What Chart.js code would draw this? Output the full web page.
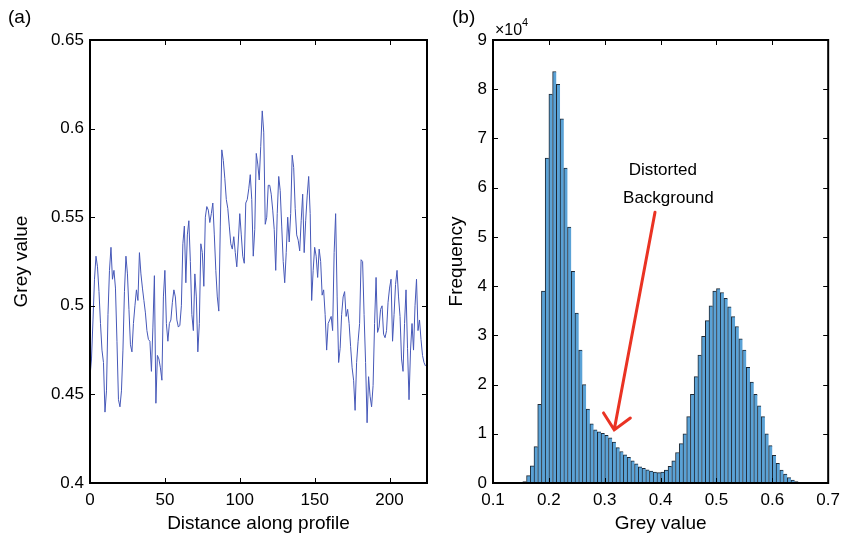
<!DOCTYPE html>
<html>
<head>
<meta charset="utf-8">
<script src="https://cdn.jsdelivr.net/npm/chart.js@4.4.0/dist/chart.umd.min.js"></script>
<style>
  html, body { margin: 0; padding: 0; background: #fff; }
  #wrap { position: relative; width: 847px; height: 546px; }
  canvas { position: absolute; left: 0; top: 0; }
</style>
</head>
<body>
<div id="wrap">
  <canvas id="profile" width="847" height="546"></canvas>
  <canvas id="hist" width="847" height="546"></canvas>
</div>
<script>
// (a) grey value along the profile, one sample per pixel of distance
const profileValues = [
  0.460, 0.470, 0.492, 0.515, 0.528, 0.522, 0.508, 0.490, 0.475, 0.468,
  0.440, 0.452, 0.495, 0.520, 0.533, 0.515, 0.520, 0.510, 0.480, 0.447,
  0.443, 0.452, 0.475, 0.508, 0.528, 0.518, 0.498, 0.478, 0.474, 0.490,
  0.500, 0.509, 0.503, 0.530, 0.518, 0.510, 0.503, 0.496, 0.486, 0.481,
  0.480, 0.463, 0.488, 0.517, 0.445, 0.472, 0.470, 0.465, 0.458, 0.505,
  0.520, 0.490, 0.480, 0.490, 0.492, 0.502, 0.509, 0.505, 0.492, 0.488,
  0.489, 0.500, 0.535, 0.545, 0.513, 0.540, 0.548, 0.525, 0.495, 0.486,
  0.518, 0.505, 0.474, 0.490, 0.535, 0.530, 0.511, 0.550, 0.556, 0.554,
  0.547, 0.552, 0.558, 0.540, 0.520, 0.505, 0.497, 0.545, 0.588, 0.582,
  0.572, 0.560, 0.555, 0.545, 0.535, 0.532, 0.539, 0.530, 0.522, 0.536,
  0.552, 0.540, 0.528, 0.524, 0.558, 0.560, 0.566, 0.574, 0.560, 0.528,
  0.543, 0.586, 0.580, 0.571, 0.590, 0.610, 0.598, 0.546, 0.550, 0.568,
  0.568, 0.563, 0.554, 0.543, 0.520, 0.552, 0.573, 0.565, 0.545, 0.525,
  0.513, 0.530, 0.550, 0.536, 0.552, 0.585, 0.578, 0.555, 0.540, 0.537,
  0.531, 0.548, 0.563, 0.530, 0.548, 0.562, 0.573, 0.552, 0.503, 0.520,
  0.533, 0.528, 0.516, 0.532, 0.525, 0.506, 0.509, 0.495, 0.475, 0.490,
  0.492, 0.494, 0.486, 0.530, 0.552, 0.505, 0.468, 0.476, 0.495, 0.505,
  0.508, 0.494, 0.498, 0.490, 0.477, 0.465, 0.458, 0.441, 0.468, 0.480,
  0.490, 0.526, 0.525, 0.495, 0.468, 0.434, 0.460, 0.449, 0.443, 0.455,
  0.490, 0.516, 0.485, 0.488, 0.498, 0.500, 0.484, 0.482, 0.486, 0.502,
  0.510, 0.515, 0.480, 0.495, 0.512, 0.520, 0.505, 0.494, 0.470, 0.463,
  0.490, 0.509, 0.476, 0.447, 0.475, 0.490, 0.475, 0.500, 0.515, 0.486,
  0.492, 0.481, 0.472, 0.468, 0.466
];
const distanceTicks = [0, 50, 100, 150, 200];
const profileGreyTicks = [0.4, 0.45, 0.5, 0.55, 0.6, 0.65];

// (b) histogram of grey values, counts in units of 10^4
const binStart = 0.1567;
const binWidth = 1 / 150;
const freqValues = [
  0.03, 0.15, 0.35, 0.74, 1.6, 3.9, 6.6, 7.9, 8.36, 8.1,
  7.4, 6.4, 5.2, 4.3, 3.45, 2.7, 2.0, 1.5, 1.2, 1.08,
  1.04, 1.01, 0.97, 0.92, 0.83, 0.72, 0.64, 0.57, 0.52, 0.45,
  0.39, 0.33, 0.30, 0.27, 0.24, 0.22, 0.21, 0.22, 0.26, 0.34,
  0.45, 0.62, 0.8, 1.0, 1.35, 1.8, 2.16, 2.6, 2.98, 3.3,
  3.6, 3.9, 3.95, 3.87, 3.75, 3.58, 3.38, 3.18, 2.93, 2.7,
  2.35, 2.05, 1.8, 1.57, 1.35, 1.0, 0.76, 0.56, 0.4, 0.26,
  0.18, 0.11, 0.06, 0.03, 0.015, 0.005
];
const histGreyTicks = [0.1, 0.2, 0.3, 0.4, 0.5, 0.6, 0.7];
const freqTicks = [0, 1, 2, 3, 4, 5, 6, 7, 8, 9];

Chart.defaults.font.family = '"Liberation Sans", Arial, sans-serif';
Chart.defaults.font.size = 17;
Chart.defaults.color = '#000';

const fmt = v => String(+v.toFixed(2));

// MATLAB style box with inward ticks on all four sides
const matlabBox = {
  id: 'matlabBox',
  afterDraw(chart) {
    const { ctx, chartArea: a, scales: { x, y } } = chart;
    const t = 5;
    ctx.save();
    ctx.strokeStyle = '#000';
    ctx.lineWidth = 1;
    ctx.beginPath();
    x.ticks.forEach(tk => {
      const px = Math.round(x.getPixelForValue(tk.value)) + 0.5;
      ctx.moveTo(px, a.bottom); ctx.lineTo(px, a.bottom - t);
      ctx.moveTo(px, a.top); ctx.lineTo(px, a.top + t);
    });
    y.ticks.forEach(tk => {
      const py = Math.round(y.getPixelForValue(tk.value)) + 0.5;
      ctx.moveTo(a.left, py); ctx.lineTo(a.left + t, py);
      ctx.moveTo(a.right, py); ctx.lineTo(a.right - t, py);
    });
    ctx.stroke();
    ctx.lineWidth = 2;
    ctx.strokeRect(a.left, a.top, a.right - a.left, a.bottom - a.top);
    ctx.restore();
  }
};

function axisX(min, max, ticks, title) {
  return {
    type: 'linear', min, max, offset: false,
    afterBuildTicks: s => { s.ticks = ticks.map(v => ({ value: v })); },
    afterFit: s => { s.height = 56; },
    grid: { display: false, drawTicks: false },
    border: { display: false },
    ticks: { padding: 7, maxRotation: 0, callback: fmt },
    title: { display: true, text: title, font: { size: 19 }, padding: { top: 0, bottom: 4 } }
  };
}
function axisY(min, max, ticks, title, width) {
  return {
    type: 'linear', min, max,
    afterBuildTicks: s => { s.ticks = ticks.map(v => ({ value: v })); },
    afterFit: s => { s.width = width; },
    grid: { display: false, drawTicks: false },
    border: { display: false },
    ticks: { padding: 6, callback: fmt },
    title: { display: true, text: title, font: { size: 19 }, padding: { top: 0, bottom: 0 } }
  };
}

new Chart(document.getElementById('profile'), {
  type: 'line',
  data: {
    datasets: [{
      data: profileValues.map((v, i) => ({ x: i, y: v })),
      borderColor: '#4658b8',
      borderWidth: 1,
      pointRadius: 0,
      tension: 0
    }]
  },
  options: {
    responsive: false,
    animation: false,
    devicePixelRatio: 1,
    layout: { padding: { left: 10, top: 40, right: 420, bottom: 7 } },
    plugins: { legend: { display: false }, tooltip: { enabled: false } },
    scales: {
      x: axisX(0, 225, distanceTicks, 'Distance along profile'),
      y: axisY(0.4, 0.65, profileGreyTicks, 'Grey value', 80)
    }
  },
  plugins: [matlabBox]
});

const annotation = {
  tail: { x: 0.39, y: 5.5 },
  tip: { x: 0.317, y: 1.08 },
  lines: [
    { text: 'Distorted', x: 0.404, y: 6.36 },
    { text: 'Background', x: 0.414, y: 5.79 }
  ]
};

const histExtras = {
  id: 'histExtras',
  afterDraw(chart) {
    const { ctx, scales: { x, y } } = chart;
    ctx.save();
    ctx.fillStyle = '#000';
    ctx.textBaseline = 'alphabetic';
    ctx.font = '19px "Liberation Sans", Arial, sans-serif';
    ctx.textAlign = 'left';
    ctx.fillText('(a)', 8, 23);
    ctx.fillText('(b)', 452, 23);
    ctx.font = '16px "Liberation Sans", Arial, sans-serif';
    ctx.fillText('\u00d710', 495, 35);
    ctx.font = '11px "Liberation Sans", Arial, sans-serif';
    ctx.fillText('4', 522, 26);

    ctx.font = '17px "Liberation Sans", Arial, sans-serif';
    ctx.textAlign = 'center';
    ctx.textBaseline = 'middle';
    annotation.lines.forEach(l => ctx.fillText(l.text, x.getPixelForValue(l.x), y.getPixelForValue(l.y)));

    const x0 = x.getPixelForValue(annotation.tail.x), y0 = y.getPixelForValue(annotation.tail.y);
    const x1 = x.getPixelForValue(annotation.tip.x), y1 = y.getPixelForValue(annotation.tip.y);
    const ang = Math.atan2(y1 - y0, x1 - x0);
    const head = 20, spread = 0.75;
    ctx.strokeStyle = '#ea3323';
    ctx.lineWidth = 3;
    ctx.lineCap = 'round';
    ctx.beginPath();
    ctx.moveTo(x0, y0); ctx.lineTo(x1, y1);
    ctx.moveTo(x1 - head * Math.cos(ang - spread), y1 - head * Math.sin(ang - spread));
    ctx.lineTo(x1, y1);
    ctx.lineTo(x1 - head * Math.cos(ang + spread), y1 - head * Math.sin(ang + spread));
    ctx.stroke();
    ctx.restore();
  }
};

new Chart(document.getElementById('hist'), {
  type: 'bar',
  data: {
    datasets: [{
      data: freqValues.map((v, i) => ({ x: binStart + i * binWidth, y: v })),
      backgroundColor: 'rgb(90, 162, 214)',
      borderColor: '#1d2733',
      borderWidth: { left: 1, top: 1, right: 0, bottom: 0 },
      borderSkipped: false,
      barPercentage: 1,
      categoryPercentage: 1,
      grouped: false
    }]
  },
  options: {
    responsive: false,
    animation: false,
    devicePixelRatio: 1,
    layout: { padding: { left: 445, top: 40, right: 16, bottom: 7 } },
    plugins: { legend: { display: false }, tooltip: { enabled: false } },
    scales: {
      x: axisX(0.1, 0.7, histGreyTicks, 'Grey value'),
      y: axisY(0, 9, freqTicks, 'Frequency', 48)
    }
  },
  plugins: [matlabBox, histExtras]
});
</script>
</body>
</html>
